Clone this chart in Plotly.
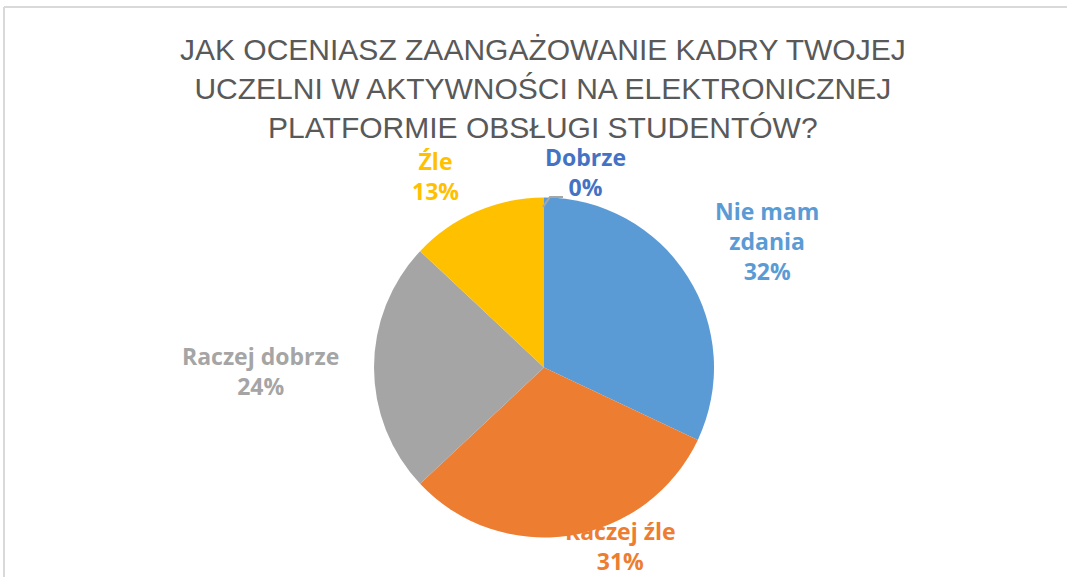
import plotly.graph_objects as go

labels = ["Nie mam zdania", "Raczej źle", "Raczej dobrze", "Źle", "Dobrze"]
values = [32, 31, 24, 13, 0]
colors = ["#5B9BD5", "#ED7D31", "#A5A5A5", "#FFC000", "#4472C4"]
title_lines = ["JAK OCENIASZ ZAANGAŻOWANIE KADRY TWOJEJ",
               "UCZELNI W AKTYWNOŚCI NA ELEKTRONICZNEJ",
               "PLATFORMIE OBSŁUGI STUDENTÓW?"]

W, H = 1067, 577
cx, cy, r = 544, 367.5, 170

def px(x):
    return x / W

def py(y):
    return 1 - y / H

fig = go.Figure()
fig.add_trace(go.Pie(
    labels=labels, values=values, sort=False, direction="clockwise", rotation=0,
    marker=dict(colors=colors, line=dict(width=0)),
    textinfo="none", showlegend=False,
    domain=dict(x=[px(cx - r), px(cx + r)], y=[py(cy + r), py(cy - r)]),
))

# label placements (pixel centres) and line breaks for each slice
label_pos = {
    "Nie mam zdania": (767, 241, "Nie mam<br>zdania"),
    "Raczej źle": (620, 546, "Raczej źle"),
    "Raczej dobrze": (260, 371, "Raczej dobrze"),
    "Źle": (435, 176, "Źle"),
    "Dobrze": (585, 172, "Dobrze"),
}
for lab, val, col in zip(labels, values, colors):
    x, y, txt = label_pos[lab]
    fig.add_annotation(
        x=px(x), y=py(y), xref="paper", yref="paper", showarrow=False,
        text=f"<b>{txt}<br>{val}%</b>", align="center",
        font=dict(family="Open Sans, Calibri, sans-serif", size=23, color=col),
        xanchor="center", yanchor="middle",
    )

fig.add_annotation(
    x=px(543), y=py(88), xref="paper", yref="paper", showarrow=False,
    text="<br>".join(title_lines), align="center",
    font=dict(family="Liberation Sans, Arial, sans-serif", size=30, color="#595959"),
    xanchor="center", yanchor="middle",
)

# leader line for the 0% label
fig.add_shape(type="path", xref="paper", yref="paper",
              path=f"M {px(543)} {py(207)} L {px(550)} {py(197)} L {px(563)} {py(197)}",
              line=dict(color="#A6A6A6", width=2))

# outer frame lines (top and left)
fig.add_shape(type="line", xref="paper", yref="paper", x0=px(4), x1=1, y0=py(7), y1=py(7),
              line=dict(color="#D9D9D9", width=2))
fig.add_shape(type="line", xref="paper", yref="paper", x0=px(4), x1=px(4), y0=py(7), y1=0,
              line=dict(color="#D9D9D9", width=2))

fig.update_layout(width=W, height=H, margin=dict(l=0, r=0, t=0, b=0),
                  paper_bgcolor="white", plot_bgcolor="white")
fig.write_html("out.html", config={"displayModeBar": False},
               post_script="document.body.style.margin='0';document.body.style.overflow='hidden';")
